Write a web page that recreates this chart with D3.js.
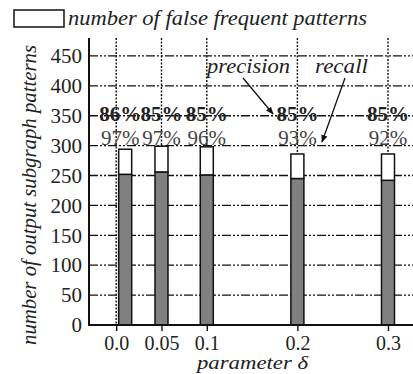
<!DOCTYPE html>
<html>
<head>
<meta charset="utf-8">
<script src="https://cdn.jsdelivr.net/npm/d3@7"></script>
<style>
  body { margin: 0; background: #fff; }
</style>
</head>
<body>
<svg width="413" height="374"></svg>
<script>
// chart values
let deltas = [0.0, 0.05, 0.1, 0.2, 0.3];
let deltaLabels = ["0.0", "0.05", "0.1", "0.2", "0.3"];
let totalPatterns = [294, 299, 298, 286, 286];
let truePatterns = [252, 256, 251, 245, 242];
let precision = ["86%", "85%", "85%", "85%", "85%"];
let recall = ["97%", "97%", "96%", "93%", "92%"];
let yTicks = [0, 50, 100, 150, 200, 250, 300, 350, 400, 450];

const SERIF = "'Liberation Serif', 'Times New Roman', serif";

let svg = d3.select("svg");

let x = d3.scaleLinear().domain([-0.03, 0.3276]).range([89, 413]);
let y = d3.scaleLinear().domain([0, 480]).range([325, 38]);
let barW = 13;
// the first bar sits a bit right of its tick
let barX = (d, i) => x(d) + (i === 0 ? 9 : 0);

// horizontal grid, dash-dot-dot
svg.append("g")
    .selectAll("line")
    .data(yTicks.filter(d => d > 0))
    .enter()
    .append("line")
    .attr("x1", 89).attr("x2", 413)
    .attr("y1", d => y(d)).attr("y2", d => y(d))
    .attr("stroke", "#111")
    .attr("stroke-width", 1.3)
    .attr("stroke-dasharray", "9,2,2,2,2,2");

// vertical grid, dotted
svg.append("g")
    .selectAll("line")
    .data(deltas)
    .enter()
    .append("line")
    .attr("x1", d => x(d)).attr("x2", d => x(d))
    .attr("y1", 38).attr("y2", 325)
    .attr("stroke", "#111")
    .attr("stroke-width", 1.4)
    .attr("stroke-dasharray", "2,1.5");

// bars: gray true part, white false part on top
let bars = svg.append("g");
bars.selectAll("rect.true")
    .data(deltas)
    .enter()
    .append("rect")
    .attr("class", "true")
    .attr("x", (d, i) => barX(d, i) - barW / 2)
    .attr("width", barW)
    .attr("y", (d, i) => y(truePatterns[i]))
    .attr("height", (d, i) => y(0) - y(truePatterns[i]))
    .attr("fill", "#808080")
    .attr("stroke", "#111")
    .attr("stroke-width", 1.5);

bars.selectAll("rect.false")
    .data(deltas)
    .enter()
    .append("rect")
    .attr("class", "false")
    .attr("x", (d, i) => barX(d, i) - barW / 2)
    .attr("width", barW)
    .attr("y", (d, i) => y(totalPatterns[i]))
    .attr("height", (d, i) => y(truePatterns[i]) - y(totalPatterns[i]))
    .attr("fill", "#fff")
    .attr("stroke", "#111")
    .attr("stroke-width", 1.5);

// axes
let yAxis = svg.append("g")
    .attr("transform", "translate(89,0)")
    .call(d3.axisLeft(y).tickValues(yTicks).tickSize(0).tickPadding(7));
yAxis.select(".domain").remove();
yAxis.selectAll("text")
    .style("font-family", SERIF)
    .attr("font-size", 21)
    .attr("fill", "#222");

let xAxis = svg.append("g")
    .attr("transform", "translate(0,325)")
    .call(d3.axisBottom(x).tickValues(deltas).tickFormat((d, i) => deltaLabels[i]).tickSize(6).tickPadding(5));
xAxis.select(".domain").remove();
xAxis.selectAll("line").attr("stroke", "#111").attr("stroke-width", 1.4);
xAxis.selectAll("text")
    .style("font-family", SERIF)
    .attr("font-size", 20)
    .attr("fill", "#222");

svg.append("line")
    .attr("x1", 89).attr("x2", 89).attr("y1", 38).attr("y2", 326)
    .attr("stroke", "#111").attr("stroke-width", 2);
svg.append("line")
    .attr("x1", 88).attr("x2", 413).attr("y1", 325).attr("y2", 325)
    .attr("stroke", "#111").attr("stroke-width", 2);

// precision / recall labels
let labX = (d, i) => x(d) + (i === 0 ? 4 : 0);
svg.append("g")
    .selectAll("text")
    .data(deltas)
    .enter()
    .append("text")
    .attr("x", labX)
    .attr("y", 121)
    .attr("text-anchor", "middle")
    .style("font-family", SERIF)
    .attr("font-size", 21)
    .attr("font-weight", "bold")
    .attr("fill", "#222")
    .text((d, i) => precision[i]);

svg.append("g")
    .selectAll("text")
    .data(deltas)
    .enter()
    .append("text")
    .attr("x", labX)
    .attr("y", 145)
    .attr("text-anchor", "middle")
    .style("font-family", SERIF)
    .attr("font-size", 21)
    .attr("fill", "#444")
    .text((d, i) => recall[i]);

// annotations with arrows
svg.append("defs").append("marker")
    .attr("id", "head")
    .attr("viewBox", "0 0 10 10")
    .attr("refX", 9).attr("refY", 5)
    .attr("markerWidth", 6).attr("markerHeight", 6)
    .attr("orient", "auto")
    .append("path")
    .attr("d", "M0,1 L10,5 L0,9 z")
    .attr("fill", "#111");

svg.append("text")
    .attr("x", 207).attr("y", 73)
    .attr("textLength", 83).attr("lengthAdjust", "spacingAndGlyphs")
    .style("font-family", SERIF)
    .attr("font-size", 20)
    .attr("font-style", "italic")
    .attr("fill", "#222")
    .text("precision");
svg.append("text")
    .attr("x", 315).attr("y", 73)
    .attr("textLength", 53).attr("lengthAdjust", "spacingAndGlyphs")
    .style("font-family", SERIF)
    .attr("font-size", 20)
    .attr("font-style", "italic")
    .attr("fill", "#222")
    .text("recall");

svg.append("line")
    .attr("x1", 243).attr("y1", 78).attr("x2", 273).attr("y2", 114)
    .attr("stroke", "#111").attr("stroke-width", 1.3)
    .attr("marker-end", "url(#head)");
svg.append("line")
    .attr("x1", 345).attr("y1", 78).attr("x2", 322).attr("y2", 142)
    .attr("stroke", "#111").attr("stroke-width", 1.3)
    .attr("marker-end", "url(#head)");

// legend
svg.append("rect")
    .attr("x", 14).attr("y", 10).attr("width", 50).attr("height", 17)
    .attr("fill", "#fff").attr("stroke", "#111").attr("stroke-width", 1.5);
svg.append("text")
    .attr("x", 68).attr("y", 25)
    .attr("textLength", 299).attr("lengthAdjust", "spacingAndGlyphs")
    .style("font-family", SERIF)
    .attr("font-size", 20)
    .attr("font-style", "italic")
    .attr("fill", "#222")
    .text("number of false frequent patterns");

// axis titles
svg.append("text")
    .attr("transform", "translate(36,345) rotate(-90)")
    .attr("textLength", 300).attr("lengthAdjust", "spacingAndGlyphs")
    .style("font-family", SERIF)
    .attr("font-size", 22)
    .attr("font-style", "italic")
    .attr("fill", "#222")
    .text("number of output subgraph patterns");

svg.append("text")
    .attr("x", 197).attr("y", 369)
    .attr("textLength", 111).attr("lengthAdjust", "spacingAndGlyphs")
    .style("font-family", SERIF)
    .attr("font-size", 18)
    .attr("font-style", "italic")
    .attr("fill", "#222")
    .text("parameter δ");
</script>
</body>
</html>
